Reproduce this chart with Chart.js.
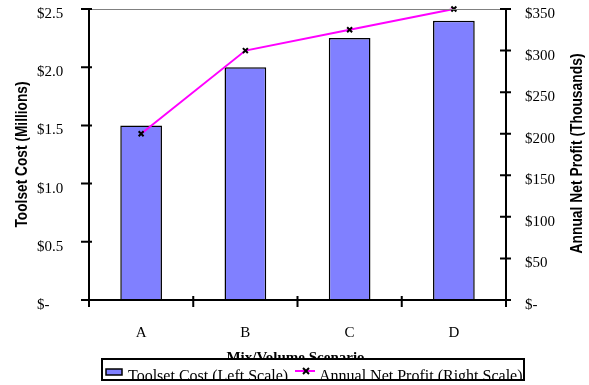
<!DOCTYPE html>
<html>
<head>
<meta charset="utf-8">
<script src="https://cdn.jsdelivr.net/npm/chart.js@4/dist/chart.umd.min.js"></script>
<style>
  html, body { margin: 0; padding: 0; background: #fff; }
  canvas { display: block; }
</style>
</head>
<body>
<canvas id="c" width="589" height="385"></canvas>
<script>
// Scenario categories and the two series
const scenarios = ['A', 'B', 'C', 'D'];
const toolsetCost = [1.5, 2.0, 2.25, 2.4];      // $ millions, left scale
const netProfit = [200, 300, 325, 350];         // $ thousands, right scale

// Tick values for the two value axes
const costTicks = [0, 0.5, 1.0, 1.5, 2.0, 2.5];
const profitTicks = [0, 50, 100, 150, 200, 250, 300, 350];

// Text
const costLabel = 'Toolset Cost (Left Scale)';
const profitLabel = 'Annual Net Profit (Right Scale)';
const leftTitle = 'Toolset Cost (Millions)';
const rightTitle = 'Annual Net Profit (Thousands)';
const xTitle = 'Mix/Volume Scenario';

const SERIF = "'Liberation Serif', 'Times New Roman', serif";
const tickFont = { family: SERIF, size: 15 };

const fmtCost = v => (v === 0 ? '$-' : '$' + Number(v).toFixed(1));
const fmtProfit = v => (v === 0 ? '$-' : '$' + v);

// Axis lines, crossing tick marks, titles and the boxed legend
const framePlugin = {
  id: 'frame',
  afterDraw(chart) {
    const ctx = chart.ctx;
    const { left, right, top, bottom } = chart.chartArea;
    const xs = chart.scales.x, ys = chart.scales.y, ys1 = chart.scales.y1;
    ctx.save();

    // top border
    ctx.strokeStyle = '#808080';
    ctx.lineWidth = 1;
    ctx.beginPath();
    ctx.moveTo(left, top + 0.5);
    ctx.lineTo(right, top + 0.5);
    ctx.stroke();

    ctx.strokeStyle = '#000';
    ctx.lineWidth = 2;
    ctx.beginPath();
    // left axis + ticks
    ctx.moveTo(left, top);
    ctx.lineTo(left, bottom);
    costTicks.forEach(v => {
      const y = ys.getPixelForValue(v);
      ctx.moveTo(left - 8, y);
      ctx.lineTo(left + 3, y);
    });
    // right axis + ticks
    ctx.moveTo(right, top);
    ctx.lineTo(right, bottom);
    profitTicks.forEach(v => {
      const y = ys1.getPixelForValue(v);
      ctx.moveTo(right - 6, y);
      ctx.lineTo(right + 5, y);
    });
    // category axis + ticks at category boundaries
    ctx.moveTo(left - 2, bottom);
    ctx.lineTo(right + 4, bottom);
    const step = xs.getPixelForValue(1) - xs.getPixelForValue(0);
    for (let i = 0; i <= scenarios.length; i++) {
      const x = xs.getPixelForValue(0) - step / 2 + i * step;
      ctx.moveTo(x, bottom - 4);
      ctx.lineTo(x, bottom + 7);
    }
    ctx.stroke();

    // axis titles
    ctx.fillStyle = '#000';
    ctx.textAlign = 'center';
    ctx.textBaseline = 'middle';
    const midY = (top + bottom) / 2;
    ctx.font = "bold 17px 'Liberation Sans Narrow', 'Liberation Sans', sans-serif";
    ctx.save();
    ctx.translate(22, midY);
    ctx.rotate(-Math.PI / 2);
    ctx.fillText(leftTitle, 0, 0, 146);
    ctx.restore();
    ctx.save();
    ctx.translate(577, midY - 1);
    ctx.rotate(-Math.PI / 2);
    ctx.fillText(rightTitle, 0, 0, 200);
    ctx.restore();

    ctx.font = 'bold 15px ' + SERIF;
    ctx.textBaseline = 'alphabetic';
    ctx.fillText(xTitle, (left + right) / 2 - 2, 362);

    // legend box
    const barDs = chart.data.datasets.find(d => d.type === 'bar');
    const lineDs = chart.data.datasets.find(d => d.type === 'line');
    const bx = 102, by = 359, bw = 422, bh = 21;
    ctx.fillStyle = '#fff';
    ctx.fillRect(bx, by, bw, bh);
    ctx.save();
    ctx.beginPath();
    ctx.rect(bx, by, bw, bh);
    ctx.clip();
    // bar swatch
    ctx.fillStyle = barDs.backgroundColor;
    ctx.fillRect(106, 369, 16, 6);
    ctx.strokeStyle = '#000';
    ctx.lineWidth = 1.5;
    ctx.strokeRect(106, 369, 16, 6);
    ctx.fillStyle = '#000';
    ctx.textAlign = 'left';
    ctx.font = '16px ' + SERIF;
    ctx.fillText(barDs.label, 128, 381);
    // line swatch
    ctx.strokeStyle = lineDs.borderColor;
    ctx.lineWidth = 2;
    ctx.beginPath();
    ctx.moveTo(295, 371);
    ctx.lineTo(315, 371);
    ctx.stroke();
    ctx.strokeStyle = '#000';
    ctx.lineWidth = 2;
    ctx.beginPath();
    ctx.moveTo(303, 368); ctx.lineTo(309, 374);
    ctx.moveTo(309, 368); ctx.lineTo(303, 374);
    ctx.stroke();
    ctx.fillText(lineDs.label, 319, 381);
    ctx.restore();
    ctx.strokeStyle = '#000';
    ctx.lineWidth = 2;
    ctx.strokeRect(bx, by, bw, bh);

    ctx.restore();
  }
};

new Chart(document.getElementById('c'), {
  data: {
    labels: scenarios,
    datasets: [
      {
        type: 'line',
        label: profitLabel,
        data: netProfit,
        yAxisID: 'y1',
        borderColor: '#FF00FF',
        borderWidth: 2,
        tension: 0,
        pointStyle: 'crossRot',
        pointRadius: 3.5,
        pointBorderColor: '#000',
        pointBorderWidth: 2,
        clip: false,
        order: 0
      },
      {
        type: 'bar',
        label: costLabel,
        data: toolsetCost,
        yAxisID: 'y',
        backgroundColor: '#8080FF',
        borderColor: '#000',
        borderWidth: 1.5,
        barPercentage: 0.4,
        categoryPercentage: 1,
        order: 1
      }
    ]
  },
  options: {
    responsive: false,
    animation: false,
    layout: { padding: { left: 37, right: 0, top: 9, bottom: 0 } },
    plugins: { legend: { display: false }, tooltip: { enabled: false } },
    scales: {
      x: {
        type: 'category',
        offset: true,
        grid: { display: false, drawTicks: false },
        border: { display: false },
        ticks: { font: tickFont, color: '#000', padding: 24 },
        afterFit(s) { s.height = 85; s.paddingLeft = 0; s.paddingRight = 0; }
      },
      y: {
        position: 'left',
        min: 0,
        max: 2.5,
        grid: { display: false, drawTicks: false },
        border: { display: false },
        afterBuildTicks(s) { s.ticks = costTicks.map(v => ({ value: v })); },
        ticks: { font: tickFont, color: '#000', crossAlign: 'far', padding: 20, labelOffset: 5, callback: fmtCost },
        afterFit(s) { s.width = 52; s.paddingTop = 0; s.paddingBottom = 0; }
      },
      y1: {
        position: 'right',
        min: 0,
        max: 350,
        grid: { display: false, drawTicks: false },
        border: { display: false },
        afterBuildTicks(s) { s.ticks = profitTicks.map(v => ({ value: v })); },
        ticks: { font: tickFont, color: '#000', padding: 19, labelOffset: 5, callback: fmtProfit },
        afterFit(s) { s.width = 83; s.paddingTop = 0; s.paddingBottom = 0; }
      }
    }
  },
  plugins: [framePlugin]
});
</script>
</body>
</html>
